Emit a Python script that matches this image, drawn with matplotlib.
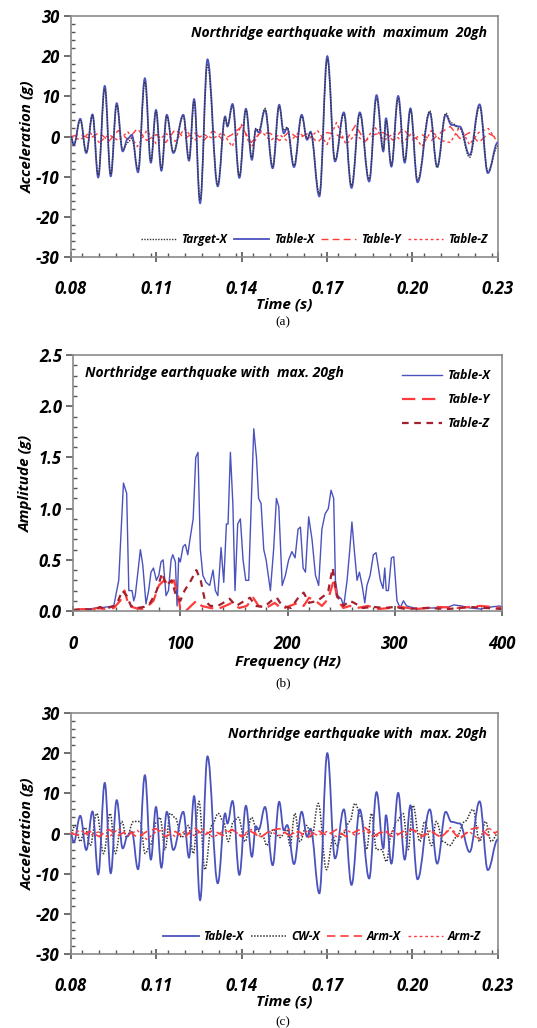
import numpy as np
import matplotlib
matplotlib.use("Agg")
import matplotlib.pyplot as plt
from matplotlib.path import Path
from matplotlib.patches import PathPatch
from matplotlib.font_manager import FontProperties
from matplotlib.ticker import MultipleLocator

plt.rcParams['font.family'] = ['Open Sans', 'DejaVu Sans']
plt.rcParams['font.weight'] = 'bold'
plt.rcParams['font.style'] = 'italic'
plt.rcParams['axes.labelweight'] = 'bold'
plt.rcParams['axes.unicode_minus'] = False

# --- (a) / (c) time histories ---
t_x = [0.0800, 0.0810, 0.0833, 0.0854, 0.0876, 0.0896, 0.0919, 0.0940, 0.0961, 0.0982,
       0.1000, 0.1014, 0.1036, 0.1060, 0.1081, 0.1099, 0.1118, 0.1137, 0.1160, 0.1195,
       0.1215, 0.1233, 0.1254, 0.1280, 0.1316, 0.1342, 0.1350, 0.1368, 0.1392, 0.1415,
       0.1436, 0.1450, 0.1460, 0.1482, 0.1509, 0.1532, 0.1548, 0.1560, 0.1584, 0.1611,
       0.1630, 0.1642, 0.1673, 0.1701, 0.1728, 0.1759, 0.1786, 0.1815, 0.1848, 0.1874,
       0.1898, 0.1907, 0.1926, 0.1950, 0.1973, 0.1993, 0.2018, 0.2061, 0.2087, 0.2117,
       0.2137, 0.2166, 0.2201, 0.2236, 0.2265, 0.2300]
table_x = [0.0, -2.2, 4.4, -4.1, 5.5, -10.2, 12.6, -9.9, 8.3, -3.7,
           -0.5, 0.4, -8.9, 14.5, -6.5, 6.6, -8.5, 5.4, -4.1, 5.4,
           -6.0, 9.3, -16.6, 19.2, -12.4, 5.0, 2.5, 8.1, -10.3, 6.9,
           -5.8, 1.8, 1.0, 6.6, -7.9, 7.9, 0.8, 2.1, -7.6, 5.4,
           -0.8, 1.2, -14.9, 20.0, -6.2, 6.0, -12.8, 6.0, -11.2, 10.3,
           -3.7, 4.6, -7.5, 10.1, -6.5, 7.0, -11.4, 6.0, -7.5, 5.4,
           2.9, 2.5, -4.6, 8.0, -9.1, -1.5]
target_x = [0.0, -2.0, 4.0, -3.8, 5.2, -9.6, 11.8, -9.4, 7.8, -3.2,
            -1.5, -0.5, -8.2, 13.6, -6.0, 6.2, -8.0, 5.0, -3.8, 5.0,
            -5.6, 8.8, -15.8, 17.8, -11.8, 4.6, 2.8, 7.6, -9.8, 6.5,
            -5.2, 2.0, 1.5, 7.0, -7.4, 7.4, 1.5, 2.3, -7.2, 5.0,
            -0.5, 1.0, -14.2, 19.2, -5.8, 5.6, -12.2, 5.6, -10.6, 9.4,
            -3.2, 4.0, -7.0, 9.4, -6.0, 6.6, -10.8, 6.4, -7.8, 5.8,
            3.4, 2.0, -5.2, 7.4, -8.6, -2.4]

t_small = np.linspace(0.08, 0.23, 46)
table_y = [0.0, 0.5, -0.5, 1.0, -1.2, 1.5, -0.8, 2.0, -1.0, 0.5,
           -1.5, 1.8, -0.5, 1.0, -1.0, 1.5, -0.8, 0.5, 2.5, -1.5,
           1.0, 0.8, -1.0, 1.2, -0.5, 0.8, -1.5, 1.0, 0.5, -1.0,
           2.8, -1.2, 0.5, 1.0, -1.0, 2.0, -0.8, 0.5, -1.0, 1.0,
           2.5, -0.5, 1.0, -1.5, 0.8, -0.5]
table_z = [0.0, -0.8, 1.0, -1.5, 0.5, -1.0, 1.2, -2.5, 1.5, -1.8,
           0.8, -1.2, 2.0, -1.0, 0.5, -0.5, 1.0, -2.5, 3.0, -2.8,
           1.5, -1.0, 0.5, -1.5, 1.0, -0.8, 1.5, -2.0, 3.5, -2.0,
           0.5, -1.5, 2.5, -1.0, 0.8, -1.5, 1.0, -2.5, 1.5, -1.0,
           -1.5, 2.5, -2.0, 1.0, 2.0, -1.5]

t_cw = [0.0800, 0.0815, 0.0833, 0.0850, 0.0868, 0.0891, 0.0915, 0.0938, 0.0956, 0.0979,
        0.0996, 0.1020, 0.1043, 0.1061, 0.1078, 0.1102, 0.1113, 0.1131, 0.1149, 0.1166,
        0.1189, 0.1213, 0.1230, 0.1250, 0.1271, 0.1295, 0.1318, 0.1336, 0.1353, 0.1371,
        0.1388, 0.1412, 0.1435, 0.1453, 0.1476, 0.1488, 0.1511, 0.1535, 0.1558, 0.1570,
        0.1587, 0.1605, 0.1628, 0.1646, 0.1669, 0.1698, 0.1722, 0.1733, 0.1757, 0.1780,
        0.1798, 0.1821, 0.1839, 0.1856, 0.1874, 0.1891, 0.1909, 0.1926, 0.1944, 0.1967,
        0.1985, 0.2002, 0.2026, 0.2043, 0.2067, 0.2084, 0.2108, 0.2131, 0.2154, 0.2184,
        0.2213, 0.2236, 0.2257, 0.2277, 0.2300]
cw_x = [0, 2, -2, 1.5, -3, 5, -5, 5, -5, 3,
        -1, 3, 3, -5, -3, 3, 4, -4, 5, 4,
        -1, 2, -5, 8, -9, 2, 5, 3, -2, 3,
        4, -2, 4, 1, -1, -3, 1, -1, 1, -3,
        5, -2, 2, -1, 7.5, -9, -1, -3, 0, 3,
        7.5, 4, -4, 5, -4, -4, -7, 0, 3, 5,
        -4, 7, -2, 3, -3, 3, -2, -3, -1, 3,
        6, -2, 3, -2, 0]
arm_x = [0.0, -0.5, 0.5, -0.8, 1.0, -0.5, 0.8, -1.0, 0.5, 1.2,
         -0.8, 0.5, -1.0, 1.5, -0.5, 0.8, -0.5, 1.0, -0.8, 0.5,
         -1.0, 0.8, 1.2, -0.5, 0.5, -1.0, 0.8, -0.5, 1.0, -0.8,
         0.5, 1.5, -0.5, 0.8, -1.0, 0.5, 1.0, -0.8, 0.5, -1.0,
         1.2, -1.5, 1.0, 1.5, -0.5, 0.5]
arm_z = [0.0, 0.8, -0.5, 0.5, -1.0, 1.2, -0.5, 0.8, -1.5, 0.5,
         1.0, -0.8, 0.5, -0.5, 1.0, -1.0, 0.5, 0.8, -0.5, 1.0,
         -0.8, 0.5, -0.5, 1.0, -1.0, 0.8, -0.5, 0.5, -0.8, 1.0,
         -0.5, 0.8, -1.0, 0.5, 0.5, -0.8, 1.2, -0.5, 0.8, -1.0,
         1.5, -1.0, 0.5, -1.5, 1.5, -0.5]

# tick values / labels
time_ticks = [0.08, 0.11, 0.14, 0.17, 0.20, 0.23]
time_labels = ['0.08', '0.11', '0.14', '0.17', '0.20', '0.23']
acc_ticks = [-30, -20, -10, 0, 10, 20, 30]
acc_labels = ['-30', '-20', '-10', '0', '10', '20', '30']
freq_ticks = [0, 100, 200, 300, 400]
freq_labels = ['0', '100', '200', '300', '400']
amp_ticks = [0.0, 0.5, 1.0, 1.5, 2.0, 2.5]
amp_labels = ['0.0', '0.5', '1.0', '1.5', '2.0', '2.5']

# --- (b) Fourier amplitude spectrum ---
f_x = [0, 25, 38, 42.6, 47, 50, 52, 55, 56.6, 58, 62.8, 65, 68, 70.5, 72.7, 75, 77.7, 80,
       82, 84, 86.7, 89, 91.4, 93, 95.4, 97, 98.5, 100, 102.6, 104.7, 107, 109, 112, 114.4,
       116.5, 118.7, 121, 124, 127.4, 130.5, 132.7, 135, 138, 140.5, 143, 144.5, 146.7, 149,
       151, 153.5, 156, 158.5, 161, 163.8, 166, 168.5, 171, 173, 175.3, 177.8, 180, 184, 187,
       189.6, 191.8, 195, 198, 201, 204, 207, 209.8, 212, 214.5, 216.7, 219.7, 222.8, 226,
       229, 232, 235, 238, 240.5, 243, 244.6, 246.8, 250, 252.4, 255.5, 258, 260, 262.6,
       264.8, 267, 269.5, 272, 274, 277, 280, 282.5, 286.5, 289, 290.6, 292, 294, 296.8, 299,
       302, 305, 308, 311, 321, 330, 340, 350, 355, 362, 370, 380, 390, 398, 400]
amp_x = [0.01, 0.03, 0.05, 0.3, 1.25, 1.15, 0.2, 0.2, 0.1, 0.15, 0.6, 0.45, 0.07, 0.2, 0.38,
         0.42, 0.3, 0.35, 0.48, 0.5, 0.15, 0.2, 0.5, 0.55, 0.48, 0.05, 0.52, 0.48, 0.63, 0.65,
         0.55, 0.7, 0.9, 1.5, 1.55, 0.6, 0.35, 0.28, 0.25, 0.4, 0.2, 0.15, 0.62, 0.28, 0.85,
         0.85, 1.55, 1.05, 0.2, 0.85, 0.9, 0.5, 0.3, 0.3, 1.0, 1.78, 1.5, 1.1, 1.05, 0.6, 0.5,
         0.2, 0.6, 1.1, 1.02, 0.25, 0.35, 0.5, 0.58, 0.52, 0.8, 0.82, 0.42, 0.38, 0.92, 0.7,
         0.35, 0.25, 0.8, 0.95, 1.0, 1.18, 1.1, 0.3, 0.15, 0.12, 0.05, 0.3, 0.6, 0.87, 0.55,
         0.3, 0.38, 0.25, 0.08, 0.25, 0.35, 0.55, 0.57, 0.3, 0.22, 0.42, 0.2, 0.2, 0.52, 0.53,
         0.1, 0.03, 0.1, 0.05, 0.02, 0.03, 0.03, 0.04, 0.06, 0.05, 0.03, 0.02, 0.04, 0.05, 0.03]
f_y = [0, 10, 15, 22, 30, 38, 44, 48, 52, 58, 64, 70, 75, 80, 85, 90, 94, 98, 100, 105,
       110, 115, 120, 128, 135, 142, 148, 155, 162, 168, 173, 180, 188, 195, 202, 210, 215,
       220, 226, 232, 238, 243, 247, 252, 258, 265, 275, 285, 295, 305, 320, 340, 360, 380, 400]
amp_y = [0.01, 0.02, 0.0, 0.03, 0.02, 0.03, 0.1, 0.2, 0.05, 0.03, 0.02, 0.05, 0.1, 0.25,
         0.3, 0.25, 0.3, 0.15, 0.02, 0.0, 0.05, 0.1, 0.05, 0.03, 0.02, 0.05, 0.08, 0.03, 0.05,
         0.13, 0.05, 0.03, 0.08, 0.02, 0.05, 0.08, 0.05, 0.13, 0.1, 0.05, 0.12, 0.3, 0.1, 0.03,
         0.05, 0.03, 0.05, 0.02, 0.03, 0.04, 0.02, 0.04, 0.03, 0.05, 0.03]
f_z = [0, 10, 20, 25, 30, 38, 42, 46, 50, 54, 60, 66, 72, 78, 83, 87, 92, 96, 100, 104,
       110, 115, 119, 123, 128, 135, 140, 146, 152, 160, 165, 170, 178, 185, 190, 195, 203,
       210, 215, 220, 228, 234, 238, 242, 246, 252, 258, 262, 270, 280, 290, 300, 310, 330,
       350, 370, 385, 400]
amp_z = [0.01, 0.02, 0.01, 0.04, 0.02, 0.05, 0.1, 0.2, 0.15, 0.05, 0.03, 0.04, 0.08, 0.2,
         0.37, 0.25, 0.3, 0.15, 0.1, 0.2, 0.3, 0.4, 0.3, 0.1, 0.05, 0.05, 0.08, 0.12, 0.05,
         0.1, 0.13, 0.05, 0.04, 0.1, 0.13, 0.05, 0.03, 0.13, 0.18, 0.08, 0.1, 0.15, 0.2, 0.42,
         0.15, 0.05, 0.1, 0.08, 0.03, 0.04, 0.03, 0.04, 0.02, 0.03, 0.02, 0.04, 0.03, 0.02]

BLUE = '#4a52bd'
RED = '#ff3b3b'
DARKRED = '#a5202e'
SPINE = '#8a8a8a'
FS = 11
TXT = dict(fontweight='bold', fontstyle='italic')
TICKFONT = FontProperties(family='Open Sans', weight='bold', style='italic', size=12)


def smooth_line(ax, t, v, label, **kw):
    # Bezier segments between the read peaks/troughs (flat tangents at each extremum)
    verts = [(t[0], v[0])]
    codes = [Path.MOVETO]
    for i in range(1, len(t)):
        d = (t[i] - t[i - 1]) / 2.6
        verts += [(t[i - 1] + d, v[i - 1]), (t[i] - d, v[i]), (t[i], v[i])]
        codes += [Path.CURVE4] * 3
    patch = PathPatch(Path(verts, codes), fill=False, edgecolor=kw['color'],
                      lw=kw.get('lw', 1.0), ls=kw.get('ls', '-'), zorder=kw.get('zorder', 2))
    ax.add_patch(patch)
    ax.plot([], [], label=label, **kw)


def style_time_axis(ax):
    ax.set_xlim(0.08, 0.23)
    ax.set_ylim(-30, 30)
    ax.set_xticks(time_ticks, time_labels, fontproperties=TICKFONT)
    ax.set_yticks(acc_ticks, acc_labels, fontproperties=TICKFONT)
    ax.xaxis.set_minor_locator(MultipleLocator(0.006))
    ax.yaxis.set_minor_locator(MultipleLocator(2))
    ax.set_xlabel('Time (s)', fontsize=FS, labelpad=0, **TXT)
    ax.set_ylabel('Acceleration (g)', fontsize=FS, labelpad=1, **TXT)


def style_common(ax):
    for s in ax.spines.values():
        s.set_color(SPINE)
        s.set_linewidth(1.2)
    ax.tick_params(which='major', direction='inout', length=7, width=1.2, color='#555555',
                   pad=13)
    ax.tick_params(which='minor', direction='in', length=3, width=1.0, color='#555555')
    ax.tick_params(axis='y', which='major', direction='out', length=5, pad=3)


def legend_style(leg):
    for txt in leg.get_texts():
        txt.set_fontweight('bold')
        txt.set_fontstyle('italic')


fig = plt.figure(figsize=(5.37, 10.28), dpi=100)
ax_a = fig.add_axes([0.132, 0.750, 0.795, 0.2344])
ax_b = fig.add_axes([0.136, 0.4056, 0.799, 0.249])
ax_c = fig.add_axes([0.132, 0.0720, 0.795, 0.2344])

# (a)
smooth_line(ax_a, t_x, target_x, 'Target-X', color='#333333', ls=(0, (1, 1)), lw=1.0, zorder=4)
smooth_line(ax_a, t_x, table_x, 'Table-X', color=BLUE, lw=1.3, zorder=3)
ax_a.plot(t_small, table_y, color=RED, ls=(0, (5, 3)), lw=1.0, label='Table-Y', zorder=2)
ax_a.plot(t_small, table_z, color=RED, ls=(0, (2, 2)), lw=1.0, label='Table-Z', zorder=2)
style_time_axis(ax_a)
style_common(ax_a)
ax_a.text(0.975, 0.93, 'Northridge earthquake with  maximum  20gh', transform=ax_a.transAxes,
          ha='right', va='center', fontsize=10, **TXT)
legend_style(ax_a.legend(loc='lower right', ncol=4, frameon=False, fontsize=8.5, handlelength=3.0,
                         columnspacing=0.6, handletextpad=0.4, bbox_to_anchor=(1.0, 0.0)))

# (b)
ax_b.plot(f_x, amp_x, color=BLUE, lw=1.0, label='Table-X')
ax_b.plot(f_y, amp_y, color=RED, ls=(0, (6, 3)), lw=1.6, label='Table-Y')
ax_b.plot(f_z, amp_z, color=DARKRED, ls=(0, (3, 2.5)), lw=1.6, label='Table-Z')
ax_b.set_xlim(0, 400)
ax_b.set_ylim(0, 2.5)
ax_b.set_xticks(freq_ticks, freq_labels, fontproperties=TICKFONT)
ax_b.set_yticks(amp_ticks, amp_labels, fontproperties=TICKFONT)
ax_b.xaxis.set_minor_locator(MultipleLocator(20))
ax_b.yaxis.set_minor_locator(MultipleLocator(0.1))
ax_b.set_xlabel('Frequency (Hz)', fontsize=FS, labelpad=1, **TXT)
ax_b.set_ylabel('Amplitude (g)', fontsize=FS, labelpad=4, **TXT)
style_common(ax_b)
ax_b.tick_params(axis='x', which='major', pad=14)
ax_b.text(0.028, 0.93, 'Northridge earthquake with  max. 20gh', transform=ax_b.transAxes,
          ha='left', va='center', fontsize=10, **TXT)
legend_style(ax_b.legend(loc='upper right', frameon=False, fontsize=9, handlelength=3.2,
                         labelspacing=0.9, handletextpad=0.5, bbox_to_anchor=(1.0, 0.99)))

# (c)
smooth_line(ax_c, t_x, table_x, 'Table-X', color=BLUE, lw=1.3, zorder=3)
smooth_line(ax_c, t_cw, cw_x, 'CW-X', color='#333333', ls=(0, (1, 1)), lw=1.1, zorder=2)
ax_c.plot(t_small, arm_x, color=RED, ls=(0, (5, 3)), lw=1.2, label='Arm-X', zorder=4)
ax_c.plot(t_small, arm_z, color=RED, ls=(0, (2, 2)), lw=1.0, label='Arm-Z', zorder=4)
style_time_axis(ax_c)
style_common(ax_c)
ax_c.text(0.975, 0.915, 'Northridge earthquake with  max. 20gh', transform=ax_c.transAxes,
          ha='right', va='center', fontsize=10, **TXT)
legend_style(ax_c.legend(loc='lower right', ncol=4, frameon=False, fontsize=8.5, handlelength=3.0,
                         columnspacing=0.6, handletextpad=0.4, bbox_to_anchor=(0.985, 0.0)))

# sub-figure captions
for lab, ypx in [('(a)', 322), ('(b)', 683), ('(c)', 1022)]:
    fig.text(0.527, 1 - ypx / 1028, lab, ha='center', va='center', fontsize=9.5,
             family='Liberation Serif', style='normal', weight='normal')

fig.savefig('out.png', dpi=100)
